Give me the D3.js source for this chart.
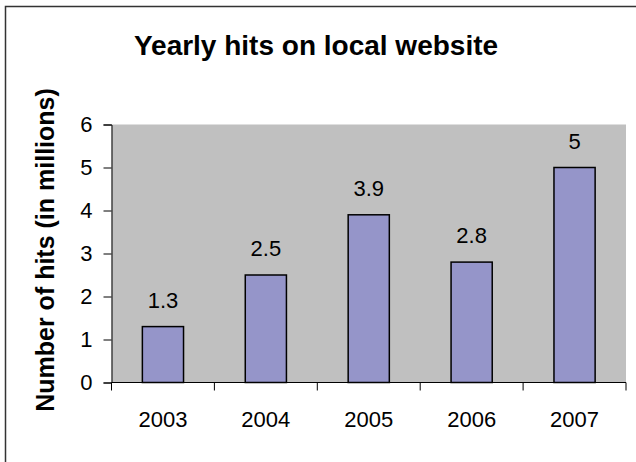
<!DOCTYPE html>
<html>
<head>
<meta charset="utf-8">
<script src="https://cdn.jsdelivr.net/npm/d3@7"></script>
<style>
  body { margin: 0; background: #fff; }
  text { font-family: Arial, "Liberation Sans", sans-serif; fill: #000; }
</style>
</head>
<body>
<script>
var years = ["2003", "2004", "2005", "2006", "2007"];
var hits = [1.3, 2.5, 3.9, 2.8, 5];
var yTicks = [0, 1, 2, 3, 4, 5, 6];

var width = 636;
var height = 462;

// plot area
var plot = {left: 111.5, right: 626, top: 124.5, bottom: 382.5};

var svg = d3.select("body").append("svg").attr("width", width).attr("height", height);

// outer chart border (cut off at right and bottom)
svg.append("rect")
  .attr("x", 5.5).attr("y", 6.5)
  .attr("width", 700).attr("height", 500)
  .attr("fill", "#fff")
  .attr("stroke", "#333").attr("stroke-width", 1.5);

svg.append("text")
  .attr("x", 316).attr("y", 55)
  .attr("text-anchor", "middle")
  .style("font-size", "28px").style("font-weight", "bold")
  .text("Yearly hits on local website");

var x = d3.scaleBand().domain(years).range([plot.left, plot.right]).paddingInner(0.6).paddingOuter(0.3);
var xStep = d3.scaleBand().domain(years).range([plot.left, plot.right]);
var y = d3.scaleLinear().domain([0, 6]).range([plot.bottom, plot.top]);

svg.append("rect")
  .attr("x", plot.left).attr("y", plot.top)
  .attr("width", plot.right - plot.left).attr("height", plot.bottom - plot.top)
  .attr("fill", "#c0c0c0");

// y axis
var yAxis = svg.append("g")
  .attr("transform", "translate(" + plot.left + ",0)")
  .call(d3.axisLeft(y).tickValues(yTicks).tickFormat(d3.format("d")).tickSize(8).tickPadding(11));
yAxis.select(".domain").attr("stroke", "#000");
yAxis.selectAll("line").attr("stroke", "#000");
yAxis.selectAll("text").attr("font-family", null).style("font-size", "22px");

// x axis: ticks on category boundaries
var xAxisG = svg.append("g").attr("transform", "translate(0," + plot.bottom + ")");
xAxisG.append("line")
  .attr("x1", plot.left).attr("x2", plot.right)
  .attr("stroke", "#000");
xAxisG.selectAll(".tk")
  .data(years.concat(["end"]))
  .enter().append("line")
    .attr("class", "tk")
    .attr("x1", function(d, i){ return plot.left + i * xStep.step(); })
    .attr("x2", function(d, i){ return plot.left + i * xStep.step(); })
    .attr("y1", 0).attr("y2", 8)
    .attr("stroke", "#000");
xAxisG.selectAll(".lbl")
  .data(years)
  .enter().append("text")
    .attr("class", "lbl")
    .attr("x", function(d){ return x(d) + x.bandwidth() / 2; })
    .attr("y", 44)
    .attr("text-anchor", "middle")
    .style("font-size", "22px")
    .text(function(d){ return d; });

// bars
svg.selectAll(".bar")
  .data(hits)
  .enter().append("rect")
    .attr("class", "bar")
    .attr("x", function(d, i){ return x(years[i]); })
    .attr("y", function(d){ return y(d); })
    .attr("width", x.bandwidth())
    .attr("height", function(d){ return y(0) - y(d); })
    .attr("fill", "#9595c9")
    .attr("stroke", "#000").attr("stroke-width", 1.5);

// value labels
svg.selectAll(".val")
  .data(hits)
  .enter().append("text")
    .attr("class", "val")
    .attr("x", function(d, i){ return x(years[i]) + x.bandwidth() / 2; })
    .attr("y", function(d){ return y(d) - 19; })
    .attr("text-anchor", "middle")
    .style("font-size", "22px")
    .text(function(d){ return d; });

// y axis title
svg.append("text")
  .attr("transform", "translate(54,250) rotate(-90)")
  .attr("text-anchor", "middle")
  .style("font-size", "25px").style("font-weight", "bold")
  .text("Number of hits (in millions)");
</script>
</body>
</html>
